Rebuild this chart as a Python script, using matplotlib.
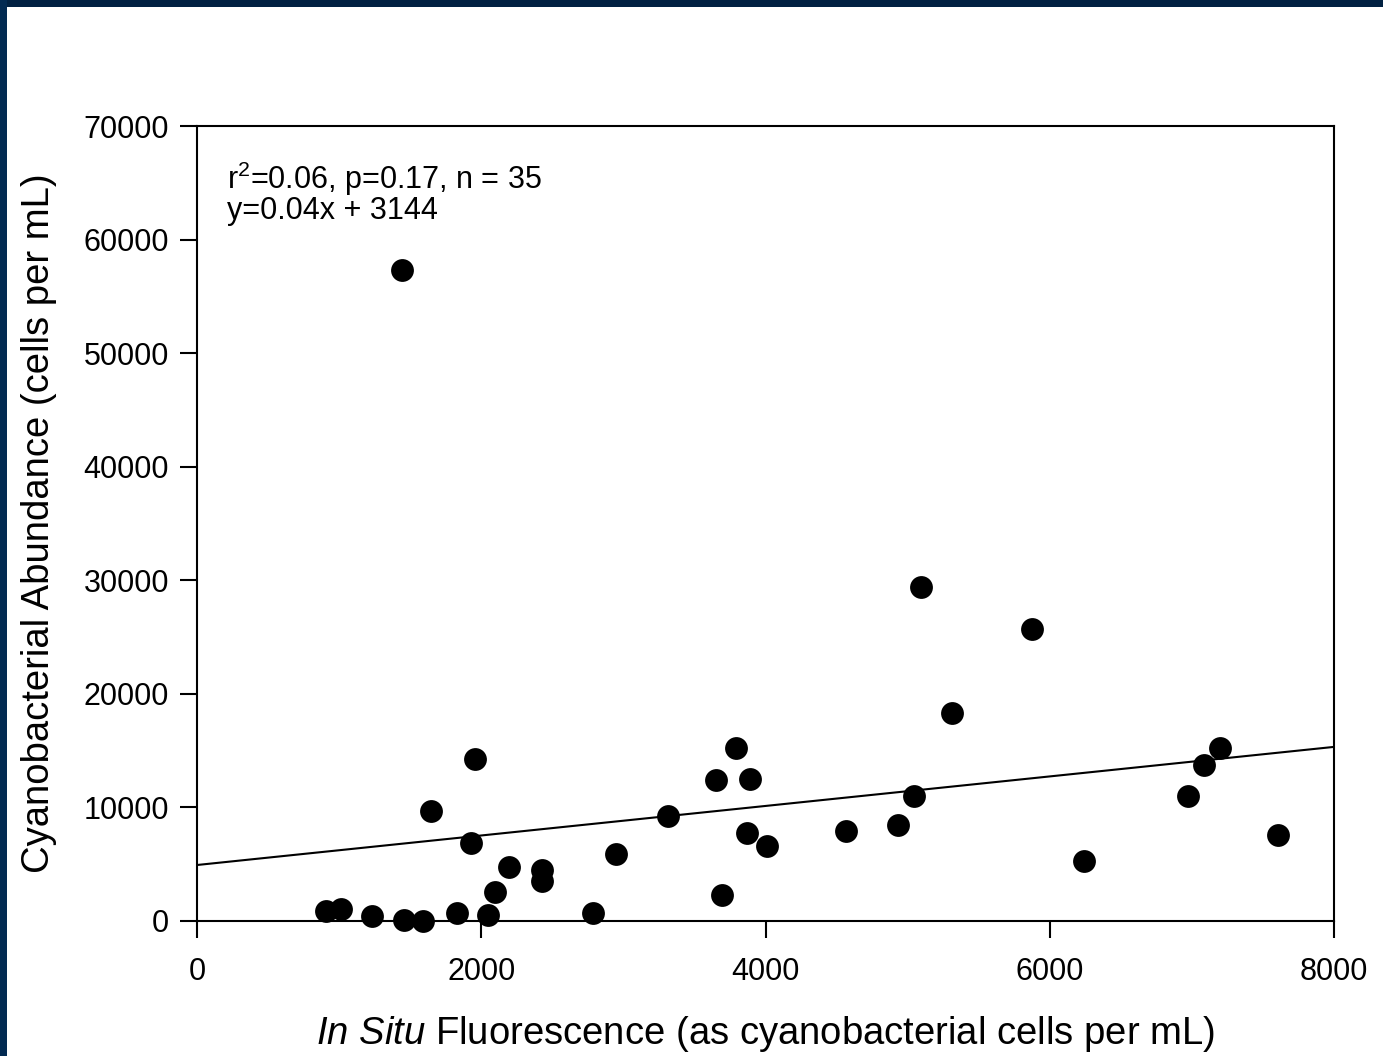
import matplotlib
matplotlib.use("Agg")
import matplotlib.pyplot as plt
import numpy as np
from matplotlib.patches import Rectangle

plt.rcParams['font.family'] = ['Liberation Sans', 'DejaVu Sans']
plt.rcParams['mathtext.fontset'] = 'custom'
plt.rcParams['mathtext.rm'] = 'Liberation Sans'
plt.rcParams['mathtext.it'] = 'Liberation Sans:italic'
plt.rcParams['mathtext.bf'] = 'Liberation Sans:bold'

fluorescence = [908, 1013, 1231, 1456, 1590, 1442, 1646, 1829, 1928, 1956,
                2047, 2097, 2195, 2427, 2427, 2786, 2948, 3314, 3652, 3694,
                3792, 3870, 3891, 4011, 4566, 4932, 5045, 5094, 5312, 5875,
                6241, 6973, 7085, 7198, 7606]
abundance = [880, 1057, 440, 88, 0, 57320, 9686, 704, 6868, 14265,
             528, 2553, 4755, 4490, 3522, 704, 5899, 9245, 12415, 2289,
             15233, 7748, 12503, 6604, 7925, 8453, 11006, 29409, 18315, 25711,
             5283, 11006, 13736, 15233, 7572]
fit_intercept = 4930
fit_slope = 1.30
fit_x = [0, 8000]
x_ticks = [0, 2000, 4000, 6000, 8000]
y_ticks = [0, 10000, 20000, 30000, 40000, 50000, 60000, 70000]

fig = plt.figure(figsize=(13.83, 10.56), dpi=100)
fig.patch.set_facecolor('white')

# dark navy frame bands (top and left)
fig.add_artist(Rectangle((0, 1 - 7/1056), 1, 7/1056, transform=fig.transFigure,
                         facecolor='#012142', edgecolor='none', zorder=0))
fig.add_artist(Rectangle((0, 0), 7/1383, 1, transform=fig.transFigure,
                         facecolor='#022a52', edgecolor='none', zorder=0))

ax = fig.add_axes([197/1383, 1 - 921/1056, (1334 - 197)/1383, (921 - 126)/1056])

fx = np.array(fit_x, dtype=float)
ax.plot(fx, fit_intercept + fit_slope * fx, color='black', lw=1.5, zorder=2)
ax.scatter(fluorescence, abundance, s=270, color='black', zorder=3,
           linewidths=0, clip_on=False)

ax.set_xlim(0, 8000)
ax.set_ylim(0, 70000)
ax.set_xticks(x_ticks)
ax.set_yticks(y_ticks)
ax.set_xticklabels([str(t) for t in x_ticks])
ax.set_yticklabels([str(t) for t in y_ticks])
ax.tick_params(axis='both', direction='out', length=12, width=1.5,
               labelsize=22, pad=8, color='black')
ax.tick_params(axis='x', pad=14)
for sp in ax.spines.values():
    sp.set_linewidth(1.5)
    sp.set_color('black')

ax.set_xlabel(r'$\it{In\ Situ}$ Fluorescence (as cyanobacterial cells per mL)',
              fontsize=27.5, labelpad=19)
ax.set_ylabel('Cyanobacterial Abundance (cells per mL)', fontsize=27.5, labelpad=19)

ax.text(0.026, 0.921, r'r$^2$=0.06, p=0.17, n = 35', transform=ax.transAxes,
        fontsize=22, va='baseline', ha='left')
ax.text(0.026, 0.883, 'y=0.04x + 3144', transform=ax.transAxes,
        fontsize=22, va='baseline', ha='left')

fig.savefig('out.png', dpi=100, facecolor=fig.get_facecolor())
